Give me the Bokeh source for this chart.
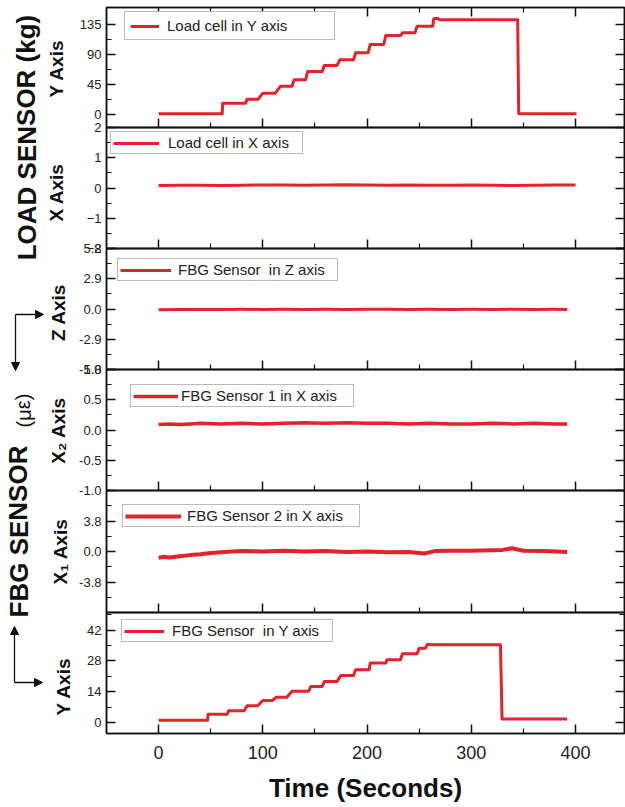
from bokeh.plotting import figure
from bokeh.layouts import row, column
from bokeh.models import (Range1d, LinearAxis, FixedTicker, PrintfTickFormatter,
                          Label, Arrow, NormalHead, Legend, LegendItem,
                          CustomLabelingPolicy)
from bokeh.embed import file_html
from bokeh.resources import INLINE

# ------------------------------------------------------------------ data
x_ticks = [0, 100, 200, 300, 400]
x_minor = [50, 150, 250, 350]

# Load cell, Y axis (kg) - step profile
load_y_t = [0, 61, 61.5, 83.5, 85, 95.5, 100, 112, 117, 128, 130, 141, 143, 157,
            159, 171, 174, 187, 189, 201, 203, 216, 218, 232, 234, 246, 248, 263,
            264, 267, 270, 344.5, 345.5, 401]
load_y_v = [0.5, 0.5, 16.5, 16.5, 22.5, 22.5, 31.5, 31.5, 42, 42, 51.5, 51.5, 64, 64,
            73, 73, 81.5, 81.5, 92, 92, 104.5, 104.5, 118, 118, 122, 122, 132, 132,
            143, 144, 141.5, 141.5, 0.5, 0.5]

# Load cell, X axis (kg)
load_x_t = [0, 20, 40, 60, 80, 100, 120, 140, 160, 180, 200, 220, 240, 260, 280,
            300, 320, 340, 360, 380, 400]
load_x_v = [0.08, 0.09, 0.09, 0.08, 0.09, 0.10, 0.10, 0.09, 0.10, 0.11, 0.10, 0.09,
            0.10, 0.09, 0.09, 0.10, 0.09, 0.08, 0.09, 0.10, 0.10]

# FBG sensor, Z axis
fbg_z_t = [0, 20, 40, 60, 80, 100, 120, 140, 160, 180, 200, 220, 240, 260, 280, 300,
           320, 340, 360, 380, 392]
fbg_z_v = [-0.06, -0.05, -0.04, -0.05, -0.03, -0.04, -0.03, -0.04, -0.03, -0.04, -0.03,
           -0.03, -0.04, -0.03, -0.04, -0.03, -0.04, -0.03, -0.04, -0.03, -0.04]

# FBG sensor 1, X axis (X2)
fbg_x2_t = [0, 10, 20, 30, 40, 60, 80, 100, 120, 140, 160, 180, 200, 220, 240, 260,
            280, 300, 320, 340, 360, 380, 392]
fbg_x2_v = [0.09, 0.10, 0.09, 0.10, 0.11, 0.10, 0.11, 0.10, 0.11, 0.12, 0.11, 0.12,
            0.11, 0.11, 0.10, 0.11, 0.10, 0.10, 0.11, 0.10, 0.11, 0.10, 0.10]

# FBG sensor 2, X axis (X1)
fbg_x1_t = [0, 5, 10, 20, 30, 40, 50, 60, 70, 80, 100, 120, 140, 160, 180, 200, 220,
            240, 255, 265, 280, 300, 320, 330, 339, 350, 370, 392]
fbg_x1_v = [-0.8, -0.65, -0.75, -0.6, -0.45, -0.35, -0.2, -0.1, 0.0, 0.05, 0.0, 0.1,
            0.0, 0.05, -0.05, 0.0, -0.1, -0.05, -0.25, 0.05, 0.1, 0.1, 0.15, 0.2, 0.4,
            0.1, 0.05, -0.05]

# FBG sensor, Y axis - step profile
fbg_y_t = [0, 47, 47.5, 66, 67, 82, 85, 95, 100, 109, 113, 123, 128, 144, 146, 157,
           159, 171, 175, 187, 189, 202, 203, 218, 219, 232, 234, 248, 250, 256, 258,
           262, 328, 329.5, 392]
fbg_y_v = [1.0, 1.0, 3.8, 3.8, 5.3, 5.3, 7.6, 7.6, 10.0, 10.0, 11.5, 11.5, 14.2, 14.2,
           16.4, 16.4, 18.6, 18.6, 21.4, 21.4, 24.0, 24.0, 27.0, 27.0, 28.5, 28.5, 31.2,
           31.2, 33.8, 33.8, 35.6, 35.3, 35.3, 1.6, 1.6]

series_t = [load_y_t, load_x_t, fbg_z_t, fbg_x2_t, fbg_x1_t, fbg_y_t]
series_v = [load_y_v, load_x_v, fbg_z_v, fbg_x2_v, fbg_x1_v, fbg_y_v]
legend_labels = ["Load cell in Y axis", "Load cell in X axis", "FBG Sensor  in Z axis",
                 "FBG Sensor 1 in X axis", "FBG Sensor 2 in X axis", "FBG Sensor  in Y axis"]
y_limits = [(-20, 160), (-2, 2), (-5.8, 5.8), (-1.0, 1.0), (-7.6, 7.6), (-5, 50)]
y_major = [[0, 45, 90, 135], [-2, -1, 0, 1, 2], [-5.8, -2.9, 0, 2.9, 5.8],
           [-1.0, -0.5, 0, 0.5, 1.0], [-3.8, 0, 3.8], [0, 14, 28, 42]]
y_minor = [[22.5, 67.5, 112.5], [-1.5, -0.5, 0.5, 1.5], [-4.35, -1.45, 1.45, 4.35],
           [-0.75, -0.25, 0.25, 0.75], [-5.7, -1.9, 1.9, 5.7], [7, 21, 35, 49]]
y_titles = ["Y Axis", "X Axis", "Z Axis", "X\u2082 Axis", "X\u2081 Axis", "Y Axis"]

# ------------------------------------------------------------------ styles / layout
RED = "#e3232b"
FONT = "Liberation Sans"
INK = "#111111"
fmt = [None, None, "%.1f", "%.1f", "%.1f", None]
line_w = [3, 3, 3, 3.5, 4, 3]

LEFT_W = 76
FRAME_L = 106
BOTTOM_B = 73
frame_top = [7, 127, 248, 369, 490, 612]
frame_h = [120, 121, 121, 121, 122, 121]
# legend geometry in page pixels: box (left, top, right, bottom), red line end, text start, padding
leg_box = [(124, 14, 333, 40), (110, 133, 301, 154), (117, 261, 336, 281),
           (130, 387, 352, 407), (122, 507, 358, 527), (121, 623, 331, 642)]
leg_line_end = [158, 158, 170, 177, 180, 163]
leg_text = [166, 167, 177, 180, 186, 171]
leg_pad = [5, 2, 2, 2, 2, 2]

x_range = Range1d(-50, 447)


def style_axis(ax, labels=True, size="13px"):
    ax.axis_line_color = INK
    ax.axis_line_width = 1.5
    ax.major_tick_line_color = INK
    ax.major_tick_line_width = 1.5
    ax.minor_tick_line_color = INK
    ax.minor_tick_line_width = 1.2
    ax.major_tick_in = 9
    ax.major_tick_out = 0
    ax.minor_tick_in = 5
    ax.minor_tick_out = 0
    if labels:
        ax.major_label_text_font = FONT
        ax.major_label_text_font_size = size
        ax.major_label_text_color = "#222222"
        ax.major_label_standoff = 5
    else:
        ax.major_label_text_font_size = "0px"
        ax.major_label_standoff = 0
        ax.major_label_policy = CustomLabelingPolicy(code="return []")


figs = []
for i in range(6):
    top_b = frame_top[0] if i == 0 else 12
    bot_b = BOTTOM_B if i == 5 else 12
    p = figure(width=625 - LEFT_W, height=top_b + frame_h[i] + bot_b,
               x_range=x_range, y_range=Range1d(*y_limits[i]),
               x_axis_type=None, y_axis_type=None,
               output_backend="svg", toolbar_location=None,
               min_border_left=FRAME_L - LEFT_W, min_border_right=1,
               min_border_top=top_b, min_border_bottom=bot_b,
               background_fill_color=None, border_fill_color=None,
               outline_line_color=INK, outline_line_width=1.5)
    if i > 0:
        p.margin = (-24, 0, 0, 0)

    yl = LinearAxis(ticker=FixedTicker(ticks=y_major[i], minor_ticks=y_minor[i]))
    if fmt[i]:
        yl.formatter = PrintfTickFormatter(format=fmt[i])
    style_axis(yl)
    p.add_layout(yl, "left")
    yr = LinearAxis(ticker=FixedTicker(ticks=y_major[i], minor_ticks=y_minor[i]))
    style_axis(yr, labels=False)
    p.add_layout(yr, "right")

    xb = LinearAxis(ticker=FixedTicker(ticks=x_ticks, minor_ticks=x_minor))
    if i == 5:
        style_axis(xb, size="18px")
        xb.major_label_standoff = 12
        xb.axis_label = "Time (Seconds)"
        xb.axis_label_text_font = FONT
        xb.axis_label_text_font_style = "bold"
        xb.axis_label_text_font_size = "26px"
        xb.axis_label_text_color = "#111111"
        xb.axis_label_standoff = 11
    else:
        style_axis(xb, labels=False)
    p.add_layout(xb, "below")
    if i == 0:
        xa = LinearAxis(ticker=FixedTicker(ticks=x_ticks, minor_ticks=x_minor))
        style_axis(xa, labels=False)
        p.add_layout(xa, "above")

    r = p.line(series_t[i], series_v[i], line_color=RED, line_width=line_w[i],
               line_join="round")

    L, T, R, B = leg_box[i]
    pad = leg_pad[i]
    le = leg_line_end[i]
    fb = frame_top[i] + frame_h[i]
    leg = Legend(items=[LegendItem(label=legend_labels[i], renderers=[r])],
                 location=(L - FRAME_L, fb - B), margin=0, padding=pad,
                 glyph_width=le - (L + pad), glyph_height=12, label_height=12,
                 label_standoff=leg_text[i] - le,
                 label_width=R - pad - leg_text[i],
                 label_text_font=FONT, label_text_font_size="15px",
                 label_text_color="#222222",
                 border_line_color="#777777", border_line_width=1,
                 background_fill_color="white", background_fill_alpha=1)
    p.add_layout(leg)
    figs.append(p)

TOTAL_H = frame_top[5] + frame_h[5] + BOTTOM_B

# left-hand titles panel (page coordinates)
lf = figure(width=LEFT_W, height=TOTAL_H, x_range=Range1d(0, LEFT_W),
            y_range=Range1d(TOTAL_H, 0),
            x_axis_type=None, y_axis_type=None, output_backend="svg",
            toolbar_location=None, min_border=0, outline_line_color=None,
            background_fill_color=None, border_fill_color=None)

big = dict(angle=1.5708, text_align="center", text_baseline="alphabetic",
           text_font=FONT, text_font_style="bold", text_color="#111111")
lf.add_layout(Label(x=26, y=137, text="LOAD SENSOR (kg)", text_font_size="26px", **big))
lf.add_layout(Label(x=18, y=531, text="FBG SENSOR", text_font_size="26px", **big))
lf.add_layout(Label(x=23, y=410, text="(\u03bc\u03b5)", angle=1.5708, text_align="center",
                    text_baseline="alphabetic", text_font=FONT, text_font_size="20px",
                    text_color="#111111"))
title_pos = [(56, 68), (56, 192), (58, 312), (58, 430), (60, 551), (63, 686)]
for (tx, ty), txt in zip(title_pos, y_titles):
    lf.add_layout(Label(x=tx, y=ty, text=txt, text_font_size="19px", **big))


def arrow(x0, y0, x1, y1):
    lf.add_layout(Arrow(x_start=x0, y_start=y0, x_end=x1, y_end=y1, line_width=1.3,
                        line_color="#111111",
                        end=NormalHead(size=8, fill_color="#111111", line_color="#111111")))


arrow(15, 314, 43, 314)
arrow(15, 314, 15, 370)
arrow(14, 682, 14, 626)
arrow(14, 682, 42, 682)

layout = row(lf, column(*figs))
open("out.html", "w").write(file_html(layout, INLINE))
